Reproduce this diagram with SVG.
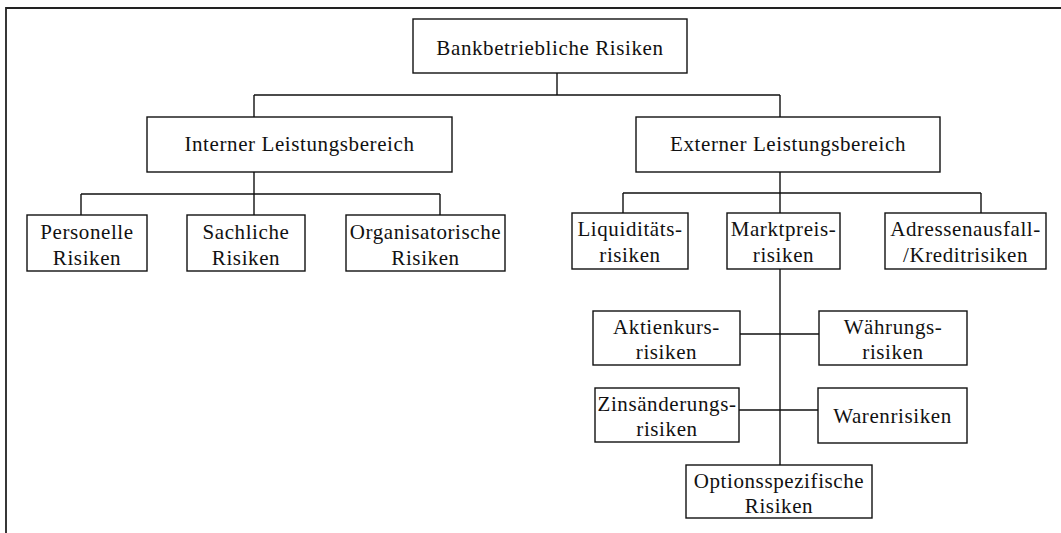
<svg xmlns="http://www.w3.org/2000/svg" width="1061" height="533" viewBox="0 0 1061 533">
<style>
.box{fill:#fff;stroke:#111;stroke-width:1.4}
.t{font-family:"Liberation Serif","Times New Roman",serif;font-size:21px;fill:#111;text-anchor:middle;letter-spacing:0.6px}
.c{fill:none;stroke:#111;stroke-width:1.4}
.frame{fill:none;stroke:#222;stroke-width:1.8}
</style>
<rect width="1061" height="533" fill="#fff"/>
<path class="frame" d="M6 533 V8 H1061"/>
<g id="connectors">
<path class="c" d="M557 73 V95 M254 95 H780 M254 95 V117 M780 95 V117"/>
<path class="c" d="M254 172 V194 M81 194 H440 M81 194 V215 M254 194 V215 M440 194 V215"/>
<path class="c" d="M780 172 V193 M623 193 H981 M623 193 V213 M780 193 V213 M981 193 V213"/>
<path class="c" d="M780 269 V465 M740 334 H819 M739 410 H818"/>
</g>
<g id="root"><rect class="box" x="413" y="19" width="274" height="54"/><text class="t" x="550" y="55">Bankbetriebliche Risiken</text></g>
<g id="intern"><rect class="box" x="147" y="117" width="305" height="55"/><text class="t" x="299.5" y="151">Interner Leistungsbereich</text></g>
<g id="extern"><rect class="box" x="636" y="117" width="304" height="55"/><text class="t" x="788" y="151">Externer Leistungsbereich</text></g>
<g id="personelle"><rect class="box" x="27" y="215" width="120" height="56"/><text class="t" x="87" y="239">Personelle</text><text class="t" x="87" y="265">Risiken</text></g>
<g id="sachliche"><rect class="box" x="187" y="215" width="118" height="56"/><text class="t" x="246" y="239">Sachliche</text><text class="t" x="246" y="265">Risiken</text></g>
<g id="organisatorische"><rect class="box" x="346" y="215" width="159" height="56"/><text class="t" x="425.5" y="239">Organisatorische</text><text class="t" x="425.5" y="265">Risiken</text></g>
<g id="liquiditaet"><rect class="box" x="572" y="213" width="116" height="56"/><text class="t" x="630" y="236">Liquiditäts-</text><text class="t" x="630" y="262">risiken</text></g>
<g id="marktpreis"><rect class="box" x="727" y="213" width="113" height="56"/><text class="t" x="783.5" y="236">Marktpreis-</text><text class="t" x="783.5" y="262">risiken</text></g>
<g id="adressen"><rect class="box" x="885" y="213" width="161" height="56"/><text class="t" x="965.5" y="236">Adressenausfall-</text><text class="t" x="965.5" y="262">/Kreditrisiken</text></g>
<g id="aktienkurs"><rect class="box" x="593" y="311" width="147" height="54"/><text class="t" x="666.5" y="334">Aktienkurs-</text><text class="t" x="666.5" y="359">risiken</text></g>
<g id="waehrung"><rect class="box" x="819" y="311" width="148" height="54"/><text class="t" x="893" y="334">Währungs-</text><text class="t" x="893" y="359">risiken</text></g>
<g id="zins"><rect class="box" x="595" y="388" width="144" height="54"/><text class="t" x="667" y="411">Zinsänderungs-</text><text class="t" x="667" y="436">risiken</text></g>
<g id="waren"><rect class="box" x="818" y="388" width="149" height="55"/><text class="t" x="892.5" y="423">Warenrisiken</text></g>
<g id="options"><rect class="box" x="686" y="465" width="186" height="53"/><text class="t" x="779" y="488">Optionsspezifische</text><text class="t" x="779" y="513">Risiken</text></g>
</svg>
